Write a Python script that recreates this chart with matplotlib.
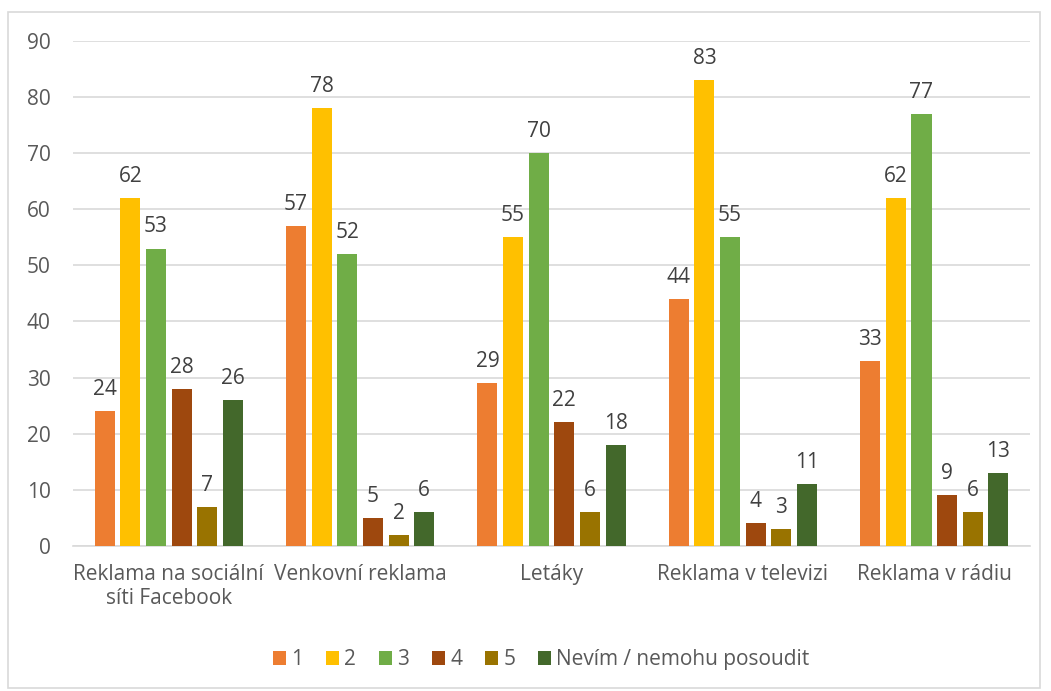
import numpy as np
import matplotlib.pyplot as plt
from matplotlib.patches import Rectangle

plt.rcParams['font.family'] = ['Open Sans', 'DejaVu Sans']

categories = ["Reklama na sociální\nsíti Facebook", "Venkovní reklama", "Letáky",
              "Reklama v televizi", "Reklama v rádiu"]
series_names = ["1", "2", "3", "4", "5", "Nevím / nemohu posoudit"]
values = [
    [24, 57, 29, 44, 33],
    [62, 78, 55, 83, 62],
    [53, 52, 70, 55, 77],
    [28, 5, 22, 4, 9],
    [7, 2, 6, 3, 6],
    [26, 6, 18, 11, 13],
]
colors = ["#ED7D31", "#FFC000", "#70AD47", "#9E480E", "#997300", "#43682B"]
yticks = [0, 10, 20, 30, 40, 50, 60, 70, 80, 90]

text_color = "#595959"
fs = 15
fig = plt.figure(figsize=(10.51, 6.91), dpi=100)
ax = fig.add_axes([0.0695, 0.21, 0.9105, 0.7307])

x = np.arange(len(categories))
step = 0.134
width = 0.105
for i, (name, vals) in enumerate(zip(series_names, values)):
    pos = x + (i - 2.5) * step
    bars = ax.bar(pos, vals, width, color=colors[i], label=name, zorder=3)
    for b, v in zip(bars, vals):
        ax.annotate(str(v), (b.get_x() + b.get_width() / 2, v),
                    xytext=(0, 8), textcoords="offset points",
                    ha="center", va="bottom", fontsize=fs, color="#404040")

ax.set_xlim(-0.5, len(categories) - 0.5)
ax.set_ylim(0, 90)
ax.set_yticks(yticks)
ax.yaxis.grid(True, color="#D9D9D9", linewidth=1.2, zorder=0)
ax.set_xticks(x)
ax.set_xticklabels(categories, fontsize=fs, color=text_color, linespacing=1.2)
ax.tick_params(axis="y", labelsize=fs, labelcolor=text_color, length=0, pad=16)
ax.tick_params(axis="x", length=0, pad=13)
for side in ["top", "right", "left"]:
    ax.spines[side].set_visible(False)
ax.spines["bottom"].set_color("#D9D9D9")
ax.spines["bottom"].set_linewidth(1.2)

fig.patches.append(Rectangle((0.008, 0.005), 0.982, 0.978, transform=fig.transFigure,
                             fill=False, edgecolor="#D9D9D9", linewidth=1.2))

leg = fig.legend(loc="center", bbox_to_anchor=(0.515, 0.045), ncol=6, frameon=False,
                 fontsize=fs, handlelength=0.62, handleheight=0.62, handletextpad=0.25,
                 columnspacing=1.1)
for t in leg.get_texts():
    t.set_color(text_color)

fig.savefig("out.png", dpi=100)
